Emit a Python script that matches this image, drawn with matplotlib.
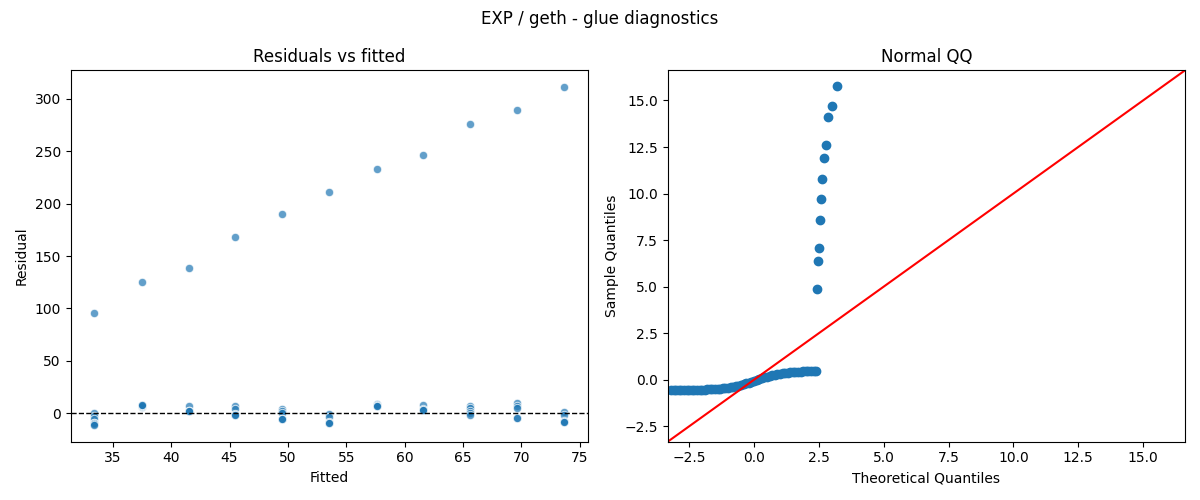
import matplotlib
matplotlib.use("Agg")
import matplotlib.pyplot as plt
import numpy as np

# ---- Residuals vs fitted data ----
fitted = [33.4, 37.5, 41.5, 45.5, 49.5, 53.5, 57.6, 61.6, 65.6, 69.6, 73.7]
outlier_resid = [96, 125, 139, 168, 190, 211, 233, 246, 276, 289, 311]
cluster_resid = [
    [0.5, -2.5, -5, -9, -9.5, -10.5, -11],
    [6, 6.5, 7, 7.5, 8],
    [7, 2.5, 2, 2],
    [6.5, 4.5, -1, -1.5, -1.5],
    [4.5, 2, 0, -5, -5.5, -5.5],
    [-0.5, -3.5, -8.5, -9.5, -9.5],
    [9, 7.5, 7, 7],
    [8, 4, 3.5, 3.5],
    [7, 5, 2.5, 0, -1.5],
    [10, 7, 5, -4, -4.5],
    [1, -2, -7.5, -8, -8],
]

# ---- Normal QQ data ----
qq_theor_bulk = [-3.2, -3.1, -3.0, -2.9, -2.8, -2.7, -2.6, -2.5, -2.4, -2.3,
                 -2.2, -2.1, -2.0, -1.9, -1.8, -1.7, -1.6, -1.5, -1.4, -1.3,
                 -1.2, -1.1, -1.0, -0.9, -0.8, -0.7, -0.6, -0.5, -0.4, -0.3,
                 -0.2, -0.1, 0.0, 0.1, 0.2, 0.3, 0.4, 0.5, 0.6, 0.7,
                 0.8, 0.9, 1.0, 1.1, 1.2, 1.3, 1.4, 1.5, 1.6, 1.7,
                 1.8, 1.9, 2.0, 2.1, 2.2, 2.3, 2.4]
qq_sample_bulk = [-0.56, -0.56, -0.56, -0.56, -0.56, -0.55, -0.55, -0.55, -0.55, -0.54,
                  -0.54, -0.54, -0.53, -0.53, -0.52, -0.52, -0.51, -0.50, -0.49, -0.47,
                  -0.46, -0.44, -0.42, -0.40, -0.37, -0.34, -0.31, -0.28, -0.25, -0.20,
                  -0.15, -0.10, -0.04, 0.00, 0.04, 0.09, 0.13, 0.17, 0.21, 0.24,
                  0.27, 0.29, 0.31, 0.34, 0.36, 0.38, 0.39, 0.41, 0.42, 0.43,
                  0.44, 0.45, 0.45, 0.46, 0.46, 0.47, 0.47]
qq_theor_out = [2.43, 2.47, 2.50, 2.54, 2.59, 2.64, 2.70, 2.78, 2.87, 2.99, 3.20]
qq_sample_out = [4.9, 6.4, 7.1, 8.6, 9.7, 10.8, 11.9, 12.6, 14.1, 14.7, 15.8]

fig, (ax1, ax2) = plt.subplots(1, 2, figsize=(12, 5), dpi=100)

# Left: residuals vs fitted
xs, ys = [], []
for f, o, cl in zip(fitted, outlier_resid, cluster_resid):
    for r in cl:
        xs.append(f)
        ys.append(r)
    xs.append(f)
    ys.append(o)
ax1.scatter(xs, ys, s=36, color="#1f77b4", alpha=0.7, edgecolor="white", linewidth=0.75)
ax1.axhline(0, color="black", linestyle="--", linewidth=1)
ax1.set_title("Residuals vs fitted")
ax1.set_xlabel("Fitted")
ax1.set_ylabel("Residual")

# Right: normal QQ
tx = qq_theor_bulk + qq_theor_out
sy = qq_sample_bulk + qq_sample_out
ax2.set_xmargin(0.02)
ax2.plot(tx, sy, marker="o", linestyle="none", color="#1f77b4")
xl = ax2.get_xlim()
yl = ax2.get_ylim()
lo = min(xl[0], yl[0])
hi = max(xl[1], yl[1])
ax2.plot([lo, hi], [lo, hi], color="red")
ax2.set_xlim(lo, hi)
ax2.set_ylim(lo, hi)
ax2.set_title("Normal QQ")
ax2.set_xlabel("Theoretical Quantiles")
ax2.set_ylabel("Sample Quantiles")

fig.suptitle("EXP / geth - glue diagnostics")
fig.tight_layout()
fig.savefig("out.png", dpi=100)
